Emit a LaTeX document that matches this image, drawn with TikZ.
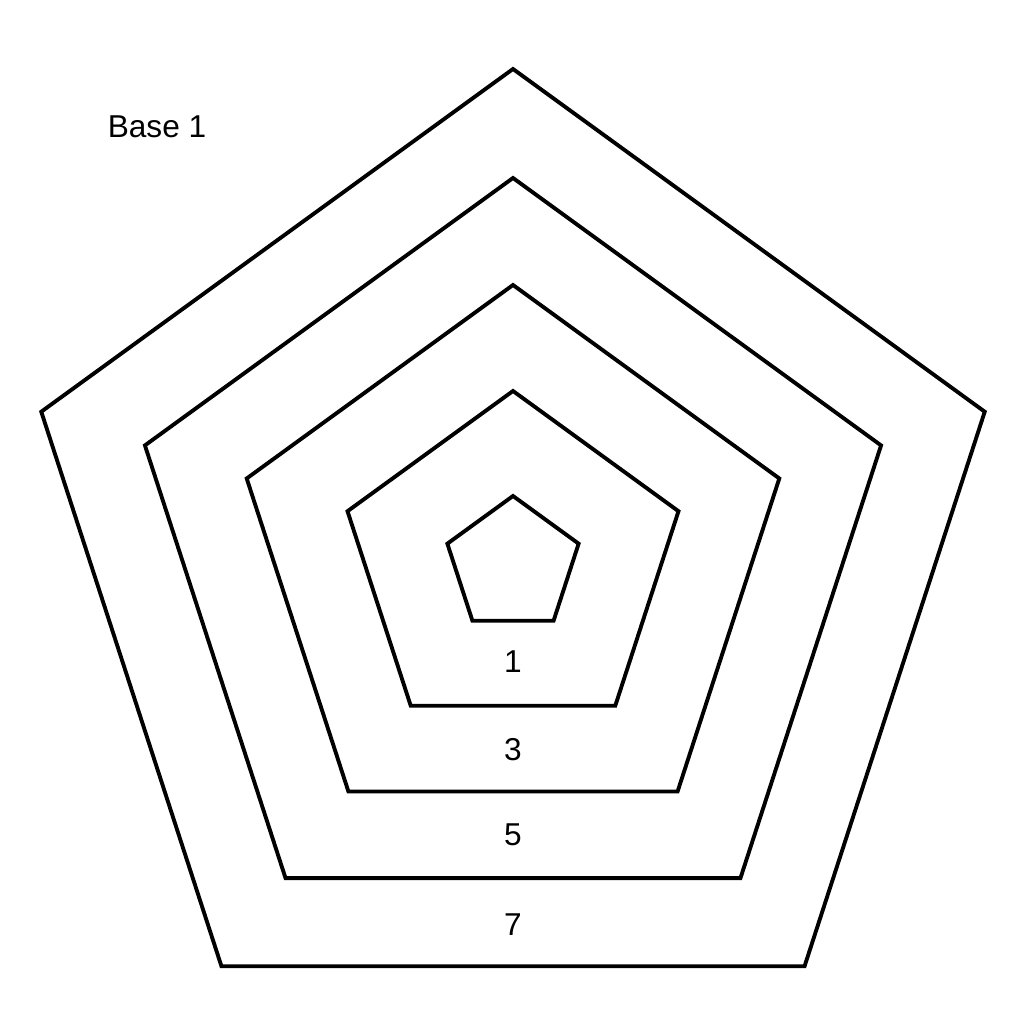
\documentclass[tikz,border=0pt]{standalone}
\usepackage{fontspec}
\setmainfont{Liberation Sans}
\begin{document}
\begin{tikzpicture}[x=0.02cm,y=0.02cm,line width=2.2pt,
  lbl/.style={font=\fontsize{18}{21}\selectfont}]
 \useasboundingbox (0,0) rectangle (1024,1024);
 \begin{scope}[shift={(513,459)}]
 \foreach \r in {69,174,280,387,496}
 {
     \draw (90:\r)--(162:\r)--(234:\r)--(306:\r)--(18:\r)--cycle;
 }
 \end{scope}
 \node[lbl] (one) at (513,362) {1};
 \node[lbl] (three) at (513,274) {3};
 \node[lbl] (five) at (513,189) {5};
 \node[lbl] (seven) at (513,99) {7};
 \node[lbl] (base) at (157,897) {Base 1};
\end{tikzpicture}
\end{document}
